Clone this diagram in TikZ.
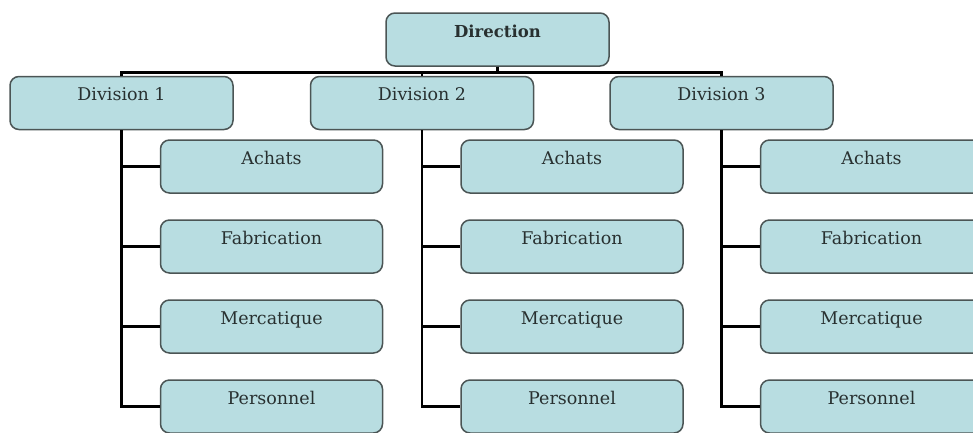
\documentclass[tikz,border=0pt]{standalone}
\usepackage{fontspec}
\setmainfont{DejaVu Serif}
\usetikzlibrary{calc}
\definecolor{boxfill}{RGB}{184,221,225}
\definecolor{boxline}{RGB}{75,85,85}
\definecolor{boxtext}{RGB}{40,48,48}
\tikzset{
	unit/.style={draw=boxline, line width=1.5pt, fill=boxfill, rounded corners=9pt,
		minimum width=223pt, inner xsep=0pt, inner ysep=5pt, text=boxtext,
		text height=19pt, text depth=24pt, font=\fontsize{17.5}{20}\selectfont},
	link/.style={line width=2.6pt, black}
}

\begin{document}
\begin{tikzpicture}[x=1pt,y=-1pt]
\useasboundingbox (0,0) rectangle (973,432);
\node[unit, font=\fontsize{16.5}{19}\selectfont\bfseries] (dir) at (497.5,39.5) {Direction};
\foreach \i/\xd in {1/121.5,2/422,3/721.5}{
	\node[unit] (div\i) at (\xd,103) {Division \i};
	\draw[link] (dir.south) -- ++(0,6) -| (div\i.north);
	\foreach \j/\txt in {1/Achats,2/Fabrication,3/Mercatique,4/Personnel}{
		\node[unit, minimum width=222pt] (s\i\j) at (\xd+150,{166.5+80*(\j-1)}) {\txt};
		\draw[link] (div\i.south) |- (s\i\j.west);
		}
	}
\end{tikzpicture}
\end{document}
